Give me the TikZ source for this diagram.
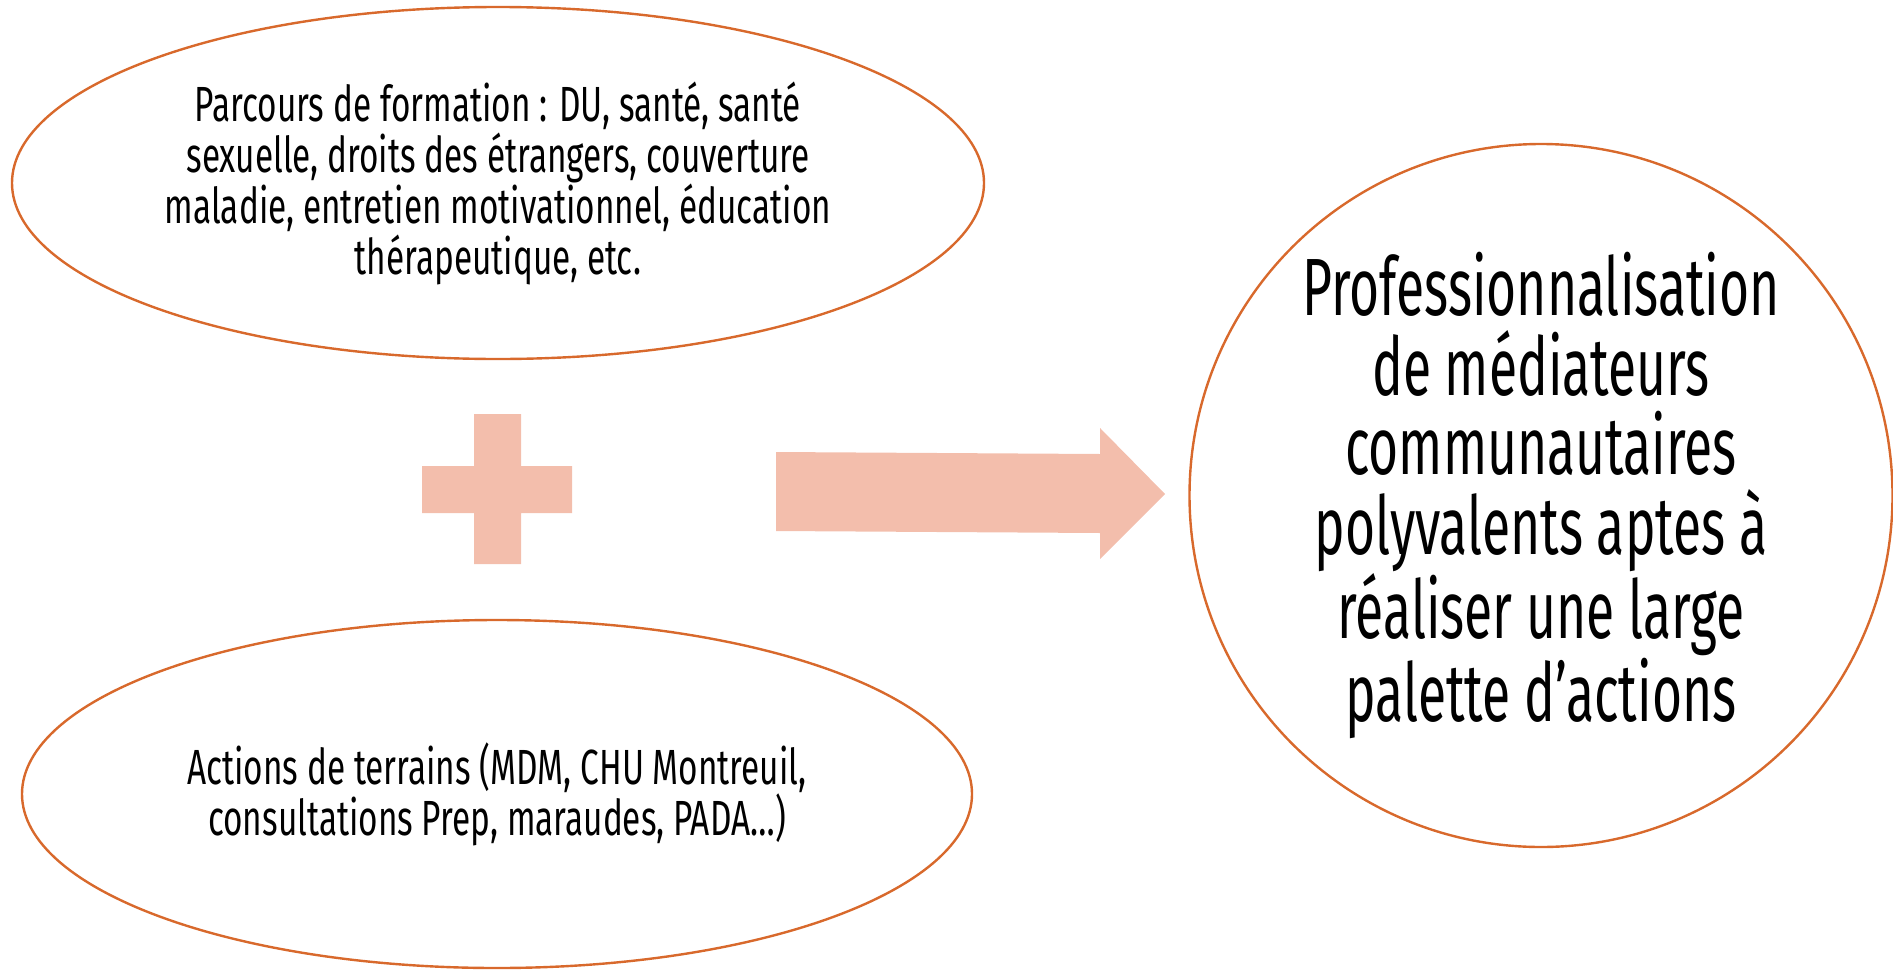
\documentclass[tikz,border=0pt]{standalone}
\usepackage{fontspec}
\setmainfont{Fira Sans}[FakeStretch=0.675]
\newfontfamily\circlefont{Fira Sans}[FakeStretch=0.635]
\usetikzlibrary{shapes.geometric, positioning}
\definecolor{rim}{HTML}{D8692C}
\definecolor{salmon}{HTML}{F3BEAC}

\begin{document}
\begin{tikzpicture}[x=0.5pt, y=-0.5pt,
  bubble/.style={ellipse, draw=rim, line width=1.2pt, inner sep=0pt,
    align=center, font=\fontsize{24.7}{25.5}\selectfont},
  sign/.style={fill=salmon, draw=none}]
  \useasboundingbox (0,0) rectangle (1893,969);

  \node[bubble, minimum width=486pt, minimum height=176pt] (formation) at (498,183)
  {Parcours de formation : DU, santé, santé\\
    sexuelle, droits des étrangers, couverture\\
    maladie, entretien motivationnel, éducation\\
    thérapeutique, etc.};

  \node[bubble, minimum width=475pt, minimum height=174pt] (terrain) at (497,794)
  {Actions de terrains (MDM, CHU Montreuil,\\
    consultations Prep, maraudes, PADA…)};

  \node[bubble, circle, minimum size=351.5pt,
  font=\circlefont\fontsize{40.6}{39.7}\selectfont] (pro) at (1541,495.5)
  {Professionnalisation\\
    de médiateurs\\
    communautaires\\
    polyvalents aptes à\\
    réaliser une large\\
    palette d’actions};

  % plus
  \fill[sign] (474,414) -- (521,414) -- (521,466) -- (572,466) -- (572,513)
  -- (521,513) -- (521,564) -- (474,564) -- (474,513) -- (422,513)
  -- (422,466) -- (474,466) -- cycle;

  % big arrow
  \fill[sign] (776,452) -- (1100,454) -- (1100,428) -- (1165,494)
  -- (1100,559) -- (1100,533) -- (776,531) -- cycle;
\end{tikzpicture}
\end{document}
